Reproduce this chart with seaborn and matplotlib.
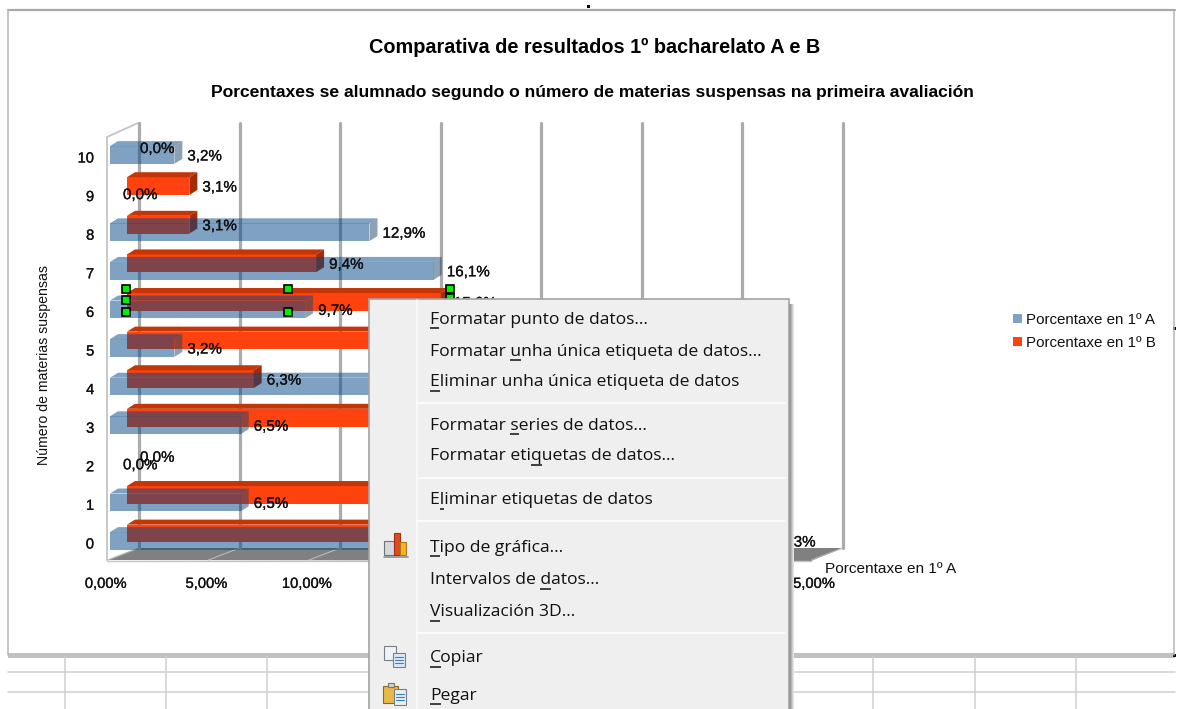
import matplotlib
matplotlib.use("Agg")
import matplotlib.pyplot as plt
import matplotlib.patheffects as pe
import seaborn as sns
import pandas as pd
from matplotlib.patches import Polygon, Rectangle, Patch
from matplotlib.transforms import IdentityTransform

# ---------- data ----------
materias = ["10", "9", "8", "7", "6", "5", "4", "3", "2", "1", "0"]
porcentaxe_a = [3.2, 0.0, 12.9, 16.1, 9.7, 3.2, 16.1, 6.5, 0.0, 6.5, 32.3]
porcentaxe_b = [0.0, 3.1, 3.1, 9.4, 15.6, 12.5, 6.3, 12.5, 0.0, 12.5, 25.0]
serie_a = "Porcentaxe en 1º A"
serie_b = "Porcentaxe en 1º B"
x_ticks = [0, 5, 10, 15, 20, 25, 30, 35]
x_tick_labels = ["0,00%", "5,00%", "10,00%", "", "", "", "", "35,00%"]
titulo = "Comparativa de resultados 1º bacharelato A e B"
subtitulo = "Porcentaxes se alumnado segundo o número de materias suspensas na primeira avaliación"
eixo_y = "Número de materias suspensas"
menu_items = [
    ("Formatar punto de datos...", 0, 318), ("Formatar unha única etiqueta de datos...", 9, 350),
    ("Eliminar unha única etiqueta de datos", 0, 381), ("Formatar series de datos...", 9, 424),
    ("Formatar etiquetas de datos...", 12, 455), ("Eliminar etiquetas de datos", 1, 499),
    ("Tipo de gráfica...", 0, 546), ("Intervalos de datos...", 14, 579),
    ("Visualización 3D...", 0, 611), ("Copiar", 0, 657), ("Pegar", 0, 694),
]

W, H = 1179, 709
BLUE, ORANGE = "#004586", "#ff420e"
LABEL_FONT = "Liberation Sans"
sns.set_theme(style="white")
plt.rcParams["font.family"] = [LABEL_FONT, "DejaVu Sans"]
STROKE = [pe.withStroke(linewidth=0.2, foreground="#111111")]

fig = plt.figure(figsize=(W / 100, H / 100), dpi=100, facecolor="white")


def px_axes(x0, y0, x1, y1, z):
    ax = fig.add_axes([x0 / W, 1 - y1 / H, (x1 - x0) / W, (y1 - y0) / H], zorder=z)
    ax.patch.set_visible(False)
    return ax


def ui_axes(z):
    ax = px_axes(0, 0, W, H, z)
    ax.set_xlim(0, W)
    ax.set_ylim(H, 0)
    ax.axis("off")
    return ax


# ---------- sheet background ----------
bg = ui_axes(0)
for y in (672, 692):
    bg.plot([8, 1175], [y, y], color="#d0d0d0", lw=1.1)
for x in (65, 166, 267, 873, 975, 1076):
    bg.plot([x, x], [657, H], color="#d0d0d0", lw=1.1)
bg.plot([8, 1175], [10, 10], color="#a8a8a8", lw=1.6)
bg.plot([8, 8], [10, 655], color="#b5b5b5", lw=1.1)
bg.plot([1174, 1174], [10, 655], color="#b5b5b5", lw=1.1)
bg.add_patch(Rectangle((8, 653), 1167, 5, fc="#c0c0c0", ec="none"))
for hx, hy in ((588, 6), (1174, 328), (1174, 655)):
    bg.add_patch(Rectangle((hx - 1.5, hy - 1.5), 3, 3, fc="black", ec="none"))

# floor and side wall
bg.add_patch(Polygon([(107, 560), (138, 548), (843, 548), (811, 561)], fc="#808080", ec="none"))
for t in x_ticks:
    xb = 139 + t * 20.1
    bg.plot([xb, xb - 31], [548, 560], color="#b9b9b9", lw=0.8)
bg.plot([107, 107, 138], [560, 137, 123], color="#c4c4c4", lw=1.3)
bg.plot([107, 811], [560.5, 560.5], color="#c4c4c4", lw=1.0)

# ---------- back wall grid ----------
axw = px_axes(139, 123, 843, 548, 1)
axw.set_xlim(0, 35)
axw.set_ylim(0, 1)
axw.set_xticks(x_ticks)
axw.set_yticks([])
axw.tick_params(length=0, labelbottom=False)
axw.grid(axis="x", color="#ababab", lw=2.3)
for g in axw.get_xgridlines():
    g.set_clip_on(False)
for s in axw.spines.values():
    s.set_visible(False)

# ---------- bars ----------
df = pd.DataFrame({"materias": materias, "A": porcentaxe_a, "B": porcentaxe_b})
ROW = 38.6
PX_X = 704


def bars(col, color, x0, yc_top, z, alpha, top_c, side_c):
    ax = px_axes(x0, yc_top - ROW / 2, x0 + PX_X, yc_top + ROW * 10.5, z)
    sns.barplot(data=df, x=col, y="materias", order=materias, orient="h", color=color,
                saturation=1, alpha=alpha, width=0.46, ax=ax, linewidth=0)
    ax.set_xlim(0, 35)
    ax.set_ylim(10.5, -0.5)
    ax.axis("off")
    dx, dy = 8, 5
    tr = ax.transData
    for p in list(ax.patches):
        if p.get_width() <= 0:
            continue
        bx, by, bw, bh = p.get_x(), p.get_y(), p.get_width(), p.get_height()
        (xa, yb), (xb, yt) = tr.transform([(bx, by + bh), (bx + bw, by)])
        face = dict(transform=IdentityTransform(), ec="none", alpha=alpha, clip_on=False)
        ax.add_patch(Polygon([(xa, yt), (xb, yt), (xb + dx, yt + dy), (xa + dx, yt + dy)], fc=top_c, **face))
        ax.add_patch(Polygon([(xb, yb), (xb, yt), (xb + dx, yt + dy), (xb + dx, yb + dy)], fc=side_c, **face))
    return ax


ax_b = bars("B", ORANGE, 127, 147.5, 2, 1.0, "#c23608", "#a52c08")
ax_a = bars("A", BLUE, 110, 155, 3, 0.5, "#004586", "#1e456b")

# ---------- axes text, data labels ----------
axt = px_axes(106, 137.7, 810, 562.3, 4)
axt.set_xlim(0, 35)
axt.set_ylim(10.5, -0.5)
axt.set_xticks(x_ticks, x_tick_labels, fontsize=10.6, color="#111111")
axt.set_yticks(range(len(materias)), materias, fontsize=10.6, color="#111111")
axt.tick_params(axis="x", length=0, pad=10.5)
axt.tick_params(axis="y", length=0, pad=8.5)
for lab in axt.get_xticklabels() + axt.get_yticklabels():
    lab.set_path_effects(STROKE)
for s in axt.spines.values():
    s.set_visible(False)
axt.set_ylabel(eixo_y, fontsize=10.2, color="#111111")
axt.yaxis.set_label_coords(-(106 - 51) / 704, (562.3 - 365) / 424.6)
axt.set_xlabel(serie_a, fontsize=11.1, color="#111111", va="center", ha="center")
axt.xaxis.set_label_coords((891 - 106) / 704, (562.3 - 569) / 424.6)

for ax, col in ((ax_a, "A"), (ax_b, "B")):
    for i, v in enumerate(df[col]):
        px, py = ax.transData.transform((v, i))
        sx, sy = px + 13, H - py
        if sx > 368 and sx + 45 < 788 and sy > 310:   # fully under the open menu
            continue
        axt.annotate(f"{v:.1f}%".replace(".", ","), xy=(v, i), xycoords=ax.transData,
                     xytext=(13, -1.5), textcoords="offset pixels", va="center",
                     fontsize=10.9, color="#111111", annotation_clip=False,
                     path_effects=STROKE)

# ---------- titles and legend ----------
fig.text(595 / W, 1 - 47.5 / H, titulo, ha="center", va="center", fontsize=14.35, color="black",
         fontweight="bold")
fig.text(592 / W, 1 - 93 / H, subtitulo, ha="center", va="center", fontsize=12.6, color="black",
         fontweight="bold")
handles = [Patch(fc="#7fa2c2", ec="none", label=serie_a), Patch(fc=ORANGE, ec="none", label=serie_b)]
fig.legend(handles=handles, loc="center left", bbox_to_anchor=(999 / W, 1 - 331.5 / H),
           frameon=False, fontsize=10.9, handlelength=0.62, handleheight=0.55, handletextpad=0.25,
           labelspacing=0.62, labelcolor="#111111")

# ---------- context menu on top ----------
ui = ui_axes(5)
for hx, hy in ((126, 289), (126, 300), (126, 312), (288, 289), (288, 312), (450, 289), (450, 298)):
    ui.add_patch(Rectangle((hx - 4, hy - 4), 8, 8, fc="#00f000", ec="black", lw=1.2))
for off, col in ((6, "#e4e4e4"), (5, "#cfcfcf"), (4, "#b5b5b5"), (3, "#9a9a9a"), (2, "#808080")):
    ui.add_patch(Rectangle((372, 304), 788 + off - 372, H - 304, fc=col, ec="none"))
ui.add_patch(Rectangle((368.5, 298.5), 420, 415, fc="#efefef", ec="#a3a3a3", lw=1.2))
ui.plot([417, 417], [300, H], color="#fafafa", lw=1.2)
for y in (403, 478, 521, 633):
    ui.plot([417, 785], [y, y], color="#fbfbfb", lw=1.4)

rend = fig.canvas.get_renderer()
MENU_FONT = "Open Sans"
MENU_SIZE = 12.6
for text, idx, y in menu_items:
    ui.text(430, y + 1.5, text, fontsize=MENU_SIZE, family=MENU_FONT, color="#111111", va="center", ha="left")
    before = ui.text(0, 0, text[:idx] or ".", fontsize=MENU_SIZE, family=MENU_FONT)
    upto = ui.text(0, 0, text[:idx + 1], fontsize=MENU_SIZE, family=MENU_FONT)
    x1 = upto.get_window_extent(rend).width
    x0 = before.get_window_extent(rend).width if idx else 0
    before.remove()
    upto.remove()
    ui.plot([430 + x0, 430 + x1], [y + 9.5, y + 9.5], color="#111111", lw=1.1, solid_capstyle="butt")


def box(x, y, w, h, fc, ec="#7a7f86"):
    ui.add_patch(Rectangle((x, y), w, h, fc=fc, ec=ec, lw=0.8))


# chart icon
box(384, 541, 11, 14, "#d5d9dc", "#70757a")
box(394, 533, 6, 22, "#e04a20", "#a03010")
box(400, 542, 6, 13, "#f4b32c", "#b07a10")
ui.plot([384, 408], [557, 557], color="#8a9298", lw=1.2)
# copy icon
box(384, 646, 12, 14, "#eef3f8")
box(393, 653, 12, 14, "#dbe8f5")
for dy in (4, 7, 10):
    ui.plot([395, 403], [653 + dy, 653 + dy], color="#3f7fc0", lw=0.8)
# paste icon
box(383, 686, 15, 17, "#e8b848", "#8a6a20")
box(394, 689, 12, 16, "#e6eef6")
box(388, 683, 6, 4, "#cfcfcf", "#777777")
for dy in (4, 7, 10):
    ui.plot([396, 404], [690 + dy, 690 + dy], color="#3f7fc0", lw=0.8)

fig.savefig("out.png", dpi=100)
